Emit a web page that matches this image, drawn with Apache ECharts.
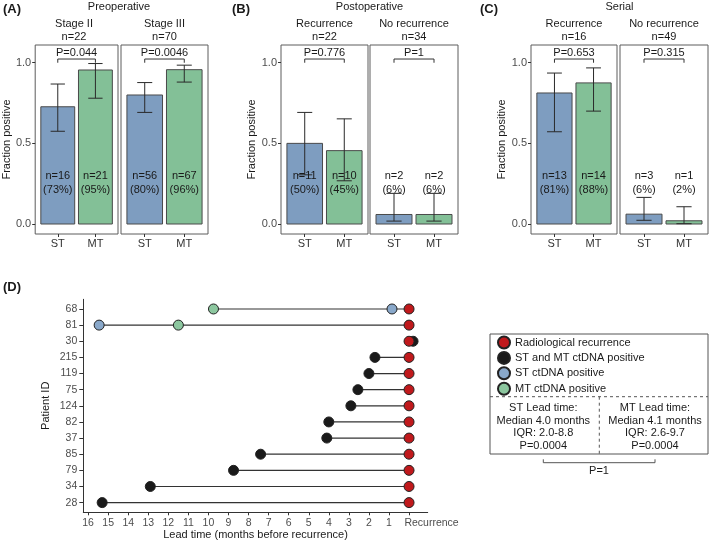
<!DOCTYPE html>
<html><head><meta charset="utf-8">
<script src="https://cdn.jsdelivr.net/npm/echarts@6/dist/echarts.min.js"></script>
<style>html,body{margin:0;padding:0;background:#fff}#c{width:709px;height:542px}</style>
</head><body><div id="c"></div>
<script>
// ---------- Data: panels A-C ----------
const groups = ['ST', 'MT'];
const sectionTitles = ['Preoperative', 'Postoperative', 'Serial'];
const sectionTags = ['(A)', '(B)', '(C)'];
const panelNames = ['Stage II', 'Stage III', 'Recurrence', 'No recurrence', 'Recurrence', 'No recurrence'];
const panelN = ['n=22', 'n=70', 'n=22', 'n=34', 'n=16', 'n=49'];
const stCount = [16, 56, 11, 2, 13, 3];
const mtCount = [21, 67, 10, 2, 14, 1];
const stPct = ['73%', '80%', '50%', '6%', '81%', '6%'];
const mtPct = ['95%', '96%', '45%', '6%', '88%', '2%'];
const stFrac = [0.727, 0.800, 0.500, 0.059, 0.8125, 0.061];
const mtFrac = [0.955, 0.957, 0.455, 0.059, 0.875, 0.020];
const stLow = [0.575, 0.692, 0.305, 0.018, 0.572, 0.023];
const stHigh = [0.868, 0.877, 0.692, 0.190, 0.936, 0.165];
const mtLow = [0.780, 0.880, 0.268, 0.018, 0.700, 0.002];
const mtHigh = [0.995, 0.985, 0.652, 0.190, 0.968, 0.107];
const pValues = ['P=0.044', 'P=0.0046', 'P=0.776', 'P=1', 'P=0.653', 'P=0.315'];
const yTicks = [0, 0.5, 1.0];

// ---------- Data: panel D ----------
const patientIds = ['68', '81', '30', '215', '119', '75', '124', '82', '37', '85', '79', '34', '28'];
const bothPositive = [null, null, -0.2, 1.7, 2.0, 2.55, 2.9, 4.0, 4.1, 7.4, 8.75, 12.9, 15.3];
const stPositive = [0.85, 15.45, null, null, null, null, null, null, null, null, null, null, null];
const mtPositive = [9.75, 11.5, null, null, null, null, null, null, null, null, null, null, null];
const recurrenceLead = [0, 0, 0, 0, 0, 0, 0, 0, 0, 0, 0, 0, 0];
const monthTicks = [0, 1, 2, 3, 4, 5, 6, 7, 8, 9, 10, 11, 12, 13, 14, 15, 16];

const leadTimeText = {
  st: ['ST Lead time:', 'Median 4.0 months', 'IQR: 2.0-8.8', 'P=0.0004'],
  mt: ['MT Lead time:', 'Median 4.1 months', 'IQR: 2.6-9.7', 'P=0.0004'],
  compare: 'P=1'
};

// ---------- Styles ----------
const FONT = 'Liberation Sans, Arial, Helvetica, sans-serif';
const C_BLUE = '#7e9dc0', C_GREEN = '#83c097';
const D_RED = '#c0191c', D_BLACK = '#1a1a1a', D_BLUE = '#89a8ca', D_GREEN = '#8cc79f';
const TXT = '#1a1a1a', TICK = '#4d4d4d';

const gridRects = [[30, 88], [121, 87], [281, 87], [370, 88], [531, 86], [620, 88]];
const TOP = 45, H = 189;

const grids = [], xAxes = [], yAxes = [], series = [], graphics = [];

function txt(text, x, y, size, opts) {
  opts = opts || {};
  return {
    type: 'text', x: x, y: y, silent: true,
    style: {
      text: text, fill: opts.color || TXT,
      font: (opts.bold ? 'bold ' : '') + size + 'px ' + FONT,
      align: opts.align || 'center', verticalAlign: 'middle',
      lineHeight: opts.lineHeight || size + 2
    }
  };
}

for (let i = 0; i < 6; i++) {
  const [gl, gw] = gridRects[i];
  const first = i % 2 === 0;
  grids.push({ left: gl, top: TOP, width: gw, height: H, show: true, borderColor: '#5c5c5c', borderWidth: 1, backgroundColor: 'transparent' });
  xAxes.push({
    type: 'value', gridIndex: i, min: 0.4, max: 2.6,
    axisLine: { show: false, onZero: false }, splitLine: { show: false },
    axisTick: { show: true, customValues: [1, 2], length: 3, lineStyle: { color: '#333' } },
    axisLabel: { customValues: [1, 2], formatter: v => groups[Math.round(v) - 1], margin: 4, fontSize: 11, color: '#333', fontFamily: FONT }
  });
  yAxes.push({
    type: 'value', gridIndex: i, min: -0.062, max: 1.11,
    axisLine: { show: false, onZero: false }, splitLine: { show: false },
    axisTick: { show: first, customValues: yTicks, length: 3, lineStyle: { color: '#333' } },
    axisLabel: { show: first, customValues: yTicks, formatter: v => v.toFixed(1), margin: 4, fontSize: 11, color: TICK, fontFamily: FONT },
    name: first ? 'Fraction positive' : '', nameLocation: 'middle', nameGap: 21,
    nameTextStyle: { fontSize: 11, color: TXT, fontFamily: FONT }
  });
  const pi = i;
  series.push({
    type: 'custom', xAxisIndex: i, yAxisIndex: i, z: 2,
    data: [[1, stFrac[i], stLow[i], stHigh[i]], [2, mtFrac[i], mtLow[i], mtHigh[i]]],
    renderItem: function (params, api) {
      const x = api.value(0), y = api.value(1), lo = api.value(2), hi = api.value(3);
      const a = api.coord([x - 0.45, y]), b = api.coord([x + 0.45, 0]);
      const t = api.coord([x, hi]), l = api.coord([x, lo]);
      const cl = api.coord([x - 0.19, 0])[0], cr = api.coord([x + 0.19, 0])[0];
      const lab = api.coord([x, 0.254]);
      const isST = params.dataIndex === 0;
      const labelText = isST ? ('n=' + stCount[pi] + '\n(' + stPct[pi] + ')') : ('n=' + mtCount[pi] + '\n(' + mtPct[pi] + ')');
      return {
        type: 'group', children: [
          { type: 'rect', shape: { x: a[0], y: a[1], width: b[0] - a[0], height: b[1] - a[1] }, style: { fill: isST ? C_BLUE : C_GREEN, stroke: '#4a4a4a', lineWidth: 1 } },
          { type: 'line', shape: { x1: t[0], y1: t[1], x2: l[0], y2: l[1] }, style: { stroke: '#2a2a2a', lineWidth: 1 } },
          { type: 'line', shape: { x1: cl, y1: t[1], x2: cr, y2: t[1] }, style: { stroke: '#2a2a2a', lineWidth: 1 } },
          { type: 'line', shape: { x1: cl, y1: l[1], x2: cr, y2: l[1] }, style: { stroke: '#2a2a2a', lineWidth: 1 } },
          { type: 'text', x: lab[0], y: lab[1], style: { text: labelText, align: 'center', verticalAlign: 'middle', font: '11px ' + FONT, fill: TXT, lineHeight: 14.3 } }
        ]
      };
    }
  });
  series.push({
    type: 'custom', xAxisIndex: i, yAxisIndex: i, z: 3,
    data: [[1, 2]],
    renderItem: function (params, api) {
      const x1 = api.value(0), x2 = api.value(1);
      const p1 = api.coord([x1, 1.0]), p2 = api.coord([x1, 1.023]), p3 = api.coord([x2, 1.023]), p4 = api.coord([x2, 1.0]);
      const tp = api.coord([(x1 + x2) / 2, 1.062]);
      return {
        type: 'group', children: [
          { type: 'polyline', shape: { points: [p1, p2, p3, p4] }, style: { stroke: '#333', lineWidth: 1, fill: null } },
          { type: 'text', x: tp[0], y: tp[1], style: { text: pValues[pi], align: 'center', verticalAlign: 'middle', font: '11px ' + FONT, fill: TXT } }
        ]
      };
    }
  });
  // strip labels
  const cx = gl + gw / 2;
  graphics.push(txt(panelNames[i], cx, 24.3, 11));
  graphics.push(txt(panelN[i], cx, 36.7, 11));
}
// section titles & tags
const tagX = [3, 232, 480];
for (let s = 0; s < 3; s++) {
  const l = gridRects[2 * s][0], r = gridRects[2 * s + 1][0] + gridRects[2 * s + 1][1];
  graphics.push(txt(sectionTitles[s], (l + r) / 2, 6.5, 11));
  graphics.push(txt(sectionTags[s], tagX[s], 9.5, 13, { bold: true, align: 'left' }));
}
graphics.push(txt('(D)', 3, 287, 13, { bold: true, align: 'left' }));

// ---------- Panel D ----------
const DG = 6;
grids.push({ left: 83.3, top: 299.3, width: 344.4, height: 213 });
xAxes.push({
  type: 'value', gridIndex: DG, inverse: true, min: -0.93, max: 16.24,
  axisLine: { show: true, onZero: false, lineStyle: { color: '#333', width: 1 } }, splitLine: { show: false },
  axisTick: { show: true, customValues: monthTicks, length: 3, lineStyle: { color: '#333' } },
  axisLabel: {
    customValues: monthTicks, margin: 5, fontSize: 10.5, color: TICK, fontFamily: FONT,
    formatter: v => v === 0 ? '{r|Recurrence}' : String(v),
    rich: { r: { fontSize: 10.5, color: TICK, fontFamily: FONT, padding: [0, 0, 0, 45] } }
  },
  name: 'Lead time (months before recurrence)', nameLocation: 'middle', nameGap: 16,
  nameTextStyle: { fontSize: 11, color: TXT, fontFamily: FONT }
});
yAxes.push({
  type: 'value', gridIndex: DG, inverse: true, min: 0.4, max: 13.6,
  axisLine: { show: true, onZero: false, lineStyle: { color: '#333', width: 1 } }, splitLine: { show: false },
  axisTick: { show: true, customValues: patientIds.map((_, i) => i + 1), length: 4, lineStyle: { color: '#333' } },
  axisLabel: { customValues: patientIds.map((_, i) => i + 1), formatter: v => patientIds[Math.round(v) - 1], margin: 6, fontSize: 10.5, color: TICK, fontFamily: FONT },
  name: 'Patient ID', nameLocation: 'middle', nameGap: 32,
  nameTextStyle: { fontSize: 11, color: TXT, fontFamily: FONT }
});

const startLead = patientIds.map((_, i) => Math.max(...[bothPositive[i], stPositive[i], mtPositive[i], recurrenceLead[i]].filter(v => v !== null)));
series.push({
  type: 'custom', xAxisIndex: DG, yAxisIndex: DG, z: 1, silent: true,
  data: patientIds.map((_, i) => [startLead[i], i + 1, recurrenceLead[i]]),
  renderItem: function (params, api) {
    const a = api.coord([api.value(0), api.value(1)]);
    const b = api.coord([api.value(2), api.value(1)]);
    return { type: 'line', shape: { x1: a[0], y1: a[1], x2: b[0], y2: b[1] }, style: { stroke: '#333', lineWidth: 1.2 } };
  }
});
function pts(arr) { const out = []; arr.forEach((v, i) => { if (v !== null) out.push([v, i + 1]); }); return out; }
function scat(name, arr, color, z) {
  return {
    type: 'scatter', name: name, xAxisIndex: DG, yAxisIndex: DG, z: z, symbol: 'circle', symbolSize: 10,
    itemStyle: { color: color, borderColor: '#222', borderWidth: 1, opacity: 1 },
    data: pts(arr)
  };
}
series.push(scat('ST and MT ctDNA positive', bothPositive, D_BLACK, 2));
series.push(scat('ST ctDNA positive', stPositive, D_BLUE, 3));
series.push(scat('MT ctDNA positive', mtPositive, D_GREEN, 3));
series.push(scat('Radiological recurrence', recurrenceLead, D_RED, 4));

// legend box
graphics.push({ type: 'rect', silent: true, shape: { x: 490, y: 334, width: 218, height: 120 }, style: { fill: null, stroke: '#555', lineWidth: 1 } });
graphics.push({ type: 'line', silent: true, shape: { x1: 490, y1: 396.7, x2: 708, y2: 396.7 }, style: { stroke: '#555', lineWidth: 1, lineDash: [3, 3] } });
graphics.push({ type: 'line', silent: true, shape: { x1: 599.3, y1: 396.7, x2: 599.3, y2: 454 }, style: { stroke: '#555', lineWidth: 1, lineDash: [3, 3] } });
graphics.push(txt(leadTimeText.st.join('\n'), 543.3, 427, 11, { lineHeight: 12.8 }));
graphics.push(txt(leadTimeText.mt.join('\n'), 655, 427, 11, { lineHeight: 12.8 }));
graphics.push({ type: 'polyline', silent: true, shape: { points: [[543.3, 459.3], [543.3, 462.7], [655, 462.7], [655, 459.3]] }, style: { fill: null, stroke: '#555', lineWidth: 1 } });
graphics.push(txt(leadTimeText.compare, 599, 470.5, 11));

const option = {
  animation: false,
  backgroundColor: '#fff',
  textStyle: { fontFamily: FONT },
  grid: grids, xAxis: xAxes, yAxis: yAxes, series: series,
  legend: {
    data: ['Radiological recurrence', 'ST and MT ctDNA positive', 'ST ctDNA positive', 'MT ctDNA positive'],
    orient: 'vertical', left: 497, top: 335.5, padding: 0, itemWidth: 12, itemHeight: 12, itemGap: 1.4,
    icon: 'circle', selectedMode: false,
    textStyle: { fontSize: 11, lineHeight: 13, color: TXT, fontFamily: FONT }
  },
  graphic: { elements: graphics }
};
const chart = echarts.init(document.getElementById('c'));
chart.setOption(option);
</script>
</body></html>
